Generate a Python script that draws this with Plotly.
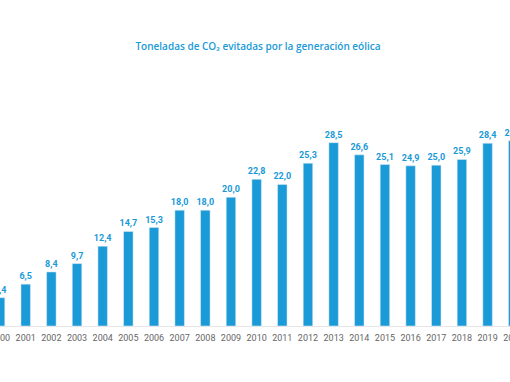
import plotly.graph_objects as go

years = [str(y) for y in range(2000, 2021)]
values = [4.4, 6.5, 8.4, 9.7, 12.4, 14.7, 15.3, 18.0, 18.0, 20.0, 22.8, 22.0,
          25.3, 28.5, 26.6, 25.1, 24.9, 25.0, 25.9, 28.4, 28.8]
labels = [f"{v:.1f}".replace(".", ",") for v in values]

blue = "#1a9ad7"

fig = go.Figure(go.Bar(
    x=years, y=values, text=labels, textposition="outside",
    constraintext="none",
    marker_color=blue, width=0.37, cliponaxis=False,
    textfont=dict(color=blue, size=9, family="Roboto", weight="bold"),
))

fig.update_layout(
    width=550, height=382,
    margin=dict(l=0, r=0, t=133, b=56, autoexpand=False),
    paper_bgcolor="white", plot_bgcolor="white",
    showlegend=False,
    title=dict(text="Toneladas de CO₂ evitadas por la generación eólica",
               x=0.5055, xanchor="center", y=1 - 46 / 382, yanchor="middle",
               font=dict(color=blue, size=10, family="Open Sans", weight=600)),
    xaxis=dict(type="category", range=[-0.781, 20.653], autorange=False,
               automargin=False, showgrid=False,
               showline=True, linecolor="#e6e6e6", linewidth=1,
               ticks="", ticklabelstandoff=3,
               tickfont=dict(color="#666666", size=9, family="Roboto")),
    yaxis=dict(range=[0, 30], visible=False, showgrid=False),
)

fig.write_html(
    "out.html",
    config={"displayModeBar": False},
    post_script=("document.body.style.margin='0';"
                 "document.body.style.marginLeft='-20px';"
                 "document.body.style.overflow='hidden';"),
)
